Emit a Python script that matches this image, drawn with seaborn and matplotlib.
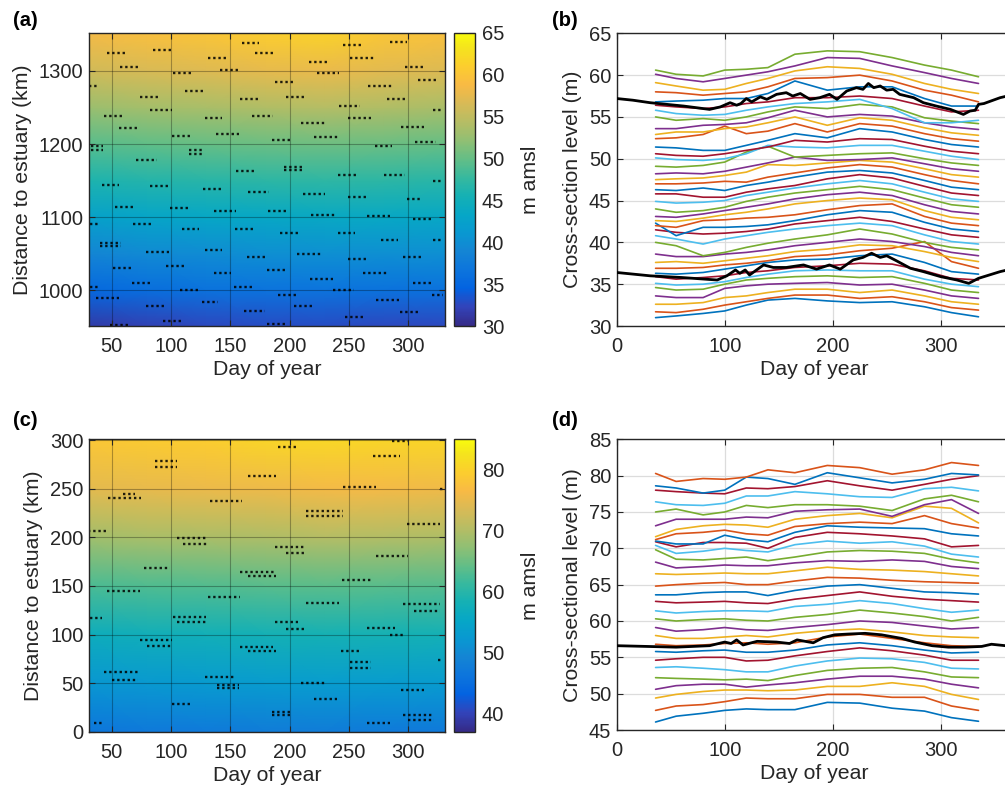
import numpy as np
import pandas as pd
import matplotlib
matplotlib.use("Agg")
import matplotlib.pyplot as plt
import seaborn as sns
from matplotlib.colors import LinearSegmentedColormap

sns.set_theme(style="white")
plt.rcParams["font.family"] = ["Liberation Sans", "DejaVu Sans"]

# ---------------- data: panel (a) heat map ----------------
A_DAYS = [31, 80, 130, 180, 230, 280, 331]
A_KM = [950, 1000, 1050, 1100, 1150, 1200, 1250, 1300, 1352]
A_LEVEL = [
    [31.5, 32.0, 32.5, 32.8, 32.8, 32.5, 32.5],
    [35.3, 35.8, 36.3, 36.5, 36.6, 36.3, 36.2],
    [39.0, 39.5, 39.8, 40.0, 40.2, 40.0, 40.0],
    [42.5, 43.0, 43.3, 43.5, 43.7, 43.6, 43.5],
    [46.0, 46.5, 46.8, 47.0, 47.2, 47.0, 46.8],
    [49.3, 49.8, 50.0, 50.3, 50.5, 50.3, 50.0],
    [52.8, 53.3, 53.6, 54.0, 54.3, 54.0, 53.6],
    [56.0, 56.6, 57.0, 57.5, 57.8, 57.3, 56.8],
    [58.5, 59.3, 60.0, 61.0, 61.5, 60.2, 59.5],
]
# sampled cross-sections (start day, end day, km)
A_SAMPLES = [
    (46, 63, 1325), (57, 74, 1306), (85, 102, 1329), (102, 117, 1297), (131, 147, 1318),
    (141, 158, 1301), (112, 129, 1273), (74, 89, 1264), (82, 101, 1246), (44, 60, 1238),
    (56, 72, 1222), (101, 117, 1211), (115, 127, 1192), (115, 127, 1186), (71, 88, 1178),
    (33, 43, 1198), (33, 43, 1192), (42, 56, 1144), (82, 99, 1142), (53, 70, 1114),
    (99, 115, 1112), (68, 85, 1091), (32, 40, 1090), (40, 58, 1064), (40, 58, 1060),
    (109, 124, 1084), (127, 143, 1138), (129, 143, 1235), (138, 157, 1214), (158, 175, 1261),
    (160, 174, 1338), (171, 188, 1324), (168, 186, 1239), (155, 171, 1163), (165, 183, 1134),
    (136, 155, 1109), (154, 171, 1084), (129, 143, 1055), (136, 151, 1023), (153, 169, 1005),
    (126, 140, 984), (162, 179, 972), (79, 95, 978), (93, 110, 958), (108, 124, 1000),
    (96, 113, 1033), (79, 98, 1052), (67, 84, 1010), (51, 68, 1030), (37, 56, 990),
    (32, 39, 1005), (49, 64, 953), (181, 196, 954), (204, 221, 978), (190, 207, 994),
    (181, 197, 1028), (206, 227, 1049), (217, 237, 1016), (192, 209, 1078), (182, 199, 1109),
    (241, 255, 1078), (218, 238, 1103), (211, 230, 1132), (195, 212, 1169), (195, 212, 1164),
    (185, 202, 1205), (197, 213, 1265), (188, 203, 1285), (216, 233, 1312), (223, 242, 1297),
    (210, 230, 1229), (221, 241, 1210), (242, 259, 1252), (245, 262, 1335), (251, 272, 1318),
    (249, 269, 1235), (241, 258, 1157), (249, 266, 1128), (265, 285, 1101), (280, 297, 1157),
    (266, 286, 1279), (282, 297, 1261), (285, 299, 1340), (297, 313, 1306), (308, 325, 1287),
    (294, 313, 1223), (306, 323, 1203), (272, 286, 1198), (299, 311, 1125), (304, 321, 1097),
    (321, 329, 1150), (321, 329, 1246), (277, 291, 1069), (321, 329, 1069), (296, 311, 1045),
    (304, 320, 1010), (320, 329, 994), (273, 292, 987), (293, 308, 970), (262, 282, 1023),
    (249, 265, 1043), (237, 254, 1000), (247, 262, 964), (164, 181, 1046), (31, 38, 1280),
]

# ---------------- data: panel (c) heat map ----------------
C_DAYS = [31, 80, 130, 180, 230, 280, 331]
C_KM = [0, 50, 100, 150, 200, 250, 301]
C_LEVEL = [
    [46.5, 47.0, 47.3, 47.5, 47.5, 47.3, 47.0],
    [52.0, 52.5, 52.8, 53.0, 53.2, 53.0, 52.8],
    [57.0, 57.5, 57.8, 58.0, 58.3, 58.2, 58.0],
    [62.5, 63.0, 63.2, 63.5, 63.8, 63.6, 63.3],
    [68.8, 69.3, 69.5, 69.8, 70.2, 70.0, 69.7],
    [74.5, 75.0, 75.3, 75.6, 76.0, 76.0, 75.8],
    [78.5, 79.0, 79.5, 80.5, 81.0, 80.5, 80.8],
]
C_SAMPLES = [
    (30, 47, 207), (32, 42, 117), (46, 74, 145), (47, 75, 241), (60, 70, 245), (77, 99, 169),
    (87, 105, 279), (87, 105, 272), (44, 72, 61), (50, 72, 53), (74, 101, 94), (80, 101, 88),
    (102, 130, 118), (105, 131, 113), (105, 131, 199), (110, 131, 193), (101, 117, 29), (35, 43, 9),
    (129, 155, 56), (139, 157, 45), (139, 157, 48), (131, 158, 139), (133, 160, 238), (158, 189, 164),
    (165, 189, 160), (158, 186, 87), (165, 189, 83), (165, 189, 263), (185, 200, 17), (185, 200, 20),
    (188, 207, 113), (197, 214, 106), (188, 214, 190), (197, 214, 184), (190, 207, 293), (210, 230, 50),
    (214, 245, 227), (214, 245, 222), (214, 242, 132), (221, 240, 34), (245, 273, 252), (244, 270, 156),
    (243, 259, 83), (251, 269, 72), (251, 269, 66), (265, 289, 107), (285, 297, 100), (273, 300, 181),
    (270, 293, 284), (286, 301, 299), (296, 327, 131), (305, 327, 124), (299, 327, 214), (294, 313, 43),
    (296, 322, 17), (300, 322, 12), (265, 285, 9), (325, 329, 74), (327, 329, 250),
]

# ---------------- data: panel (b) lines ----------------
B_DAYS = [36, 55, 80, 100, 120, 140, 165, 195, 225, 255, 285, 310, 335]
B_LINES = [
    [31.0, 31.2, 31.5, 31.8, 32.5, 33.1, 33.3, 33.0, 32.8, 32.9, 32.3, 31.6, 31.1],
    [31.7, 31.6, 32.0, 32.5, 32.9, 33.3, 33.7, 33.7, 33.3, 33.5, 32.9, 32.2, 31.9],
    [32.6, 32.6, 32.8, 33.4, 33.6, 34.0, 34.4, 34.4, 34.0, 34.3, 33.6, 32.9, 32.6],
    [33.6, 33.4, 33.4, 34.5, 34.8, 35.0, 35.1, 35.2, 34.9, 35.0, 34.3, 33.6, 33.3],
    [34.6, 34.3, 34.4, 35.0, 35.5, 35.7, 35.9, 36.0, 35.8, 35.9, 35.1, 34.3, 34.0],
    [35.1, 34.9, 35.0, 35.3, 35.8, 36.2, 36.6, 36.7, 36.6, 36.6, 35.6, 35.0, 34.7],
    [35.9, 35.6, 35.8, 36.0, 36.4, 36.6, 37.0, 37.2, 37.5, 37.4, 36.6, 35.7, 35.5],
    [36.3, 36.2, 36.4, 36.8, 37.2, 37.6, 37.9, 38.0, 38.4, 38.6, 37.6, 36.5, 36.2],
    [36.9, 36.9, 37.0, 37.3, 37.5, 37.8, 38.3, 38.5, 39.0, 39.3, 40.1, 37.7, 36.9],
    [37.6, 37.7, 37.5, 37.8, 38.1, 38.4, 38.9, 39.2, 39.7, 39.6, 38.9, 38.2, 37.7],
    [38.6, 38.3, 38.3, 38.6, 38.8, 39.1, 39.6, 40.0, 40.4, 40.1, 39.5, 38.8, 38.4],
    [40.0, 39.6, 38.4, 38.8, 39.4, 39.9, 40.4, 40.9, 41.6, 41.0, 40.0, 39.4, 39.1],
    [40.8, 40.4, 39.8, 40.4, 40.8, 41.2, 41.6, 42.0, 42.3, 42.0, 40.9, 40.1, 39.8],
    [41.5, 41.2, 41.0, 41.1, 41.3, 41.6, 42.2, 42.6, 43.0, 42.5, 41.6, 40.9, 40.6],
    [42.3, 40.8, 41.8, 41.8, 41.9, 42.1, 42.6, 43.3, 43.8, 43.6, 42.4, 41.6, 41.3],
    [42.0, 41.8, 42.6, 42.7, 42.9, 43.0, 43.3, 43.9, 44.4, 44.6, 43.1, 42.3, 42.0],
    [42.6, 42.5, 42.9, 43.3, 43.6, 44.0, 44.6, 45.0, 45.3, 45.1, 43.8, 43.0, 42.7],
    [43.1, 43.0, 43.4, 43.8, 44.2, 44.6, 45.2, 45.7, 46.0, 45.6, 44.5, 43.7, 43.4],
    [44.0, 43.6, 43.8, 44.2, 44.9, 45.4, 45.9, 46.3, 46.7, 46.3, 45.3, 44.5, 44.2],
    [44.9, 44.7, 44.8, 45.0, 45.6, 46.0, 46.5, 47.0, 47.4, 47.0, 46.0, 45.2, 44.9],
    [45.8, 45.8, 45.4, 45.4, 46.0, 46.4, 46.8, 47.6, 48.1, 47.7, 46.7, 45.9, 45.6],
    [46.3, 46.2, 46.5, 46.2, 46.8, 47.2, 47.8, 48.4, 48.6, 48.3, 47.4, 46.6, 46.3],
    [47.0, 47.0, 47.1, 47.3, 47.2, 47.8, 48.3, 48.9, 49.3, 49.0, 48.1, 47.4, 47.0],
    [47.5, 47.6, 47.7, 48.0, 48.4, 49.3, 49.2, 49.5, 49.8, 49.6, 48.8, 48.1, 47.8],
    [48.2, 48.3, 48.2, 48.5, 49.0, 49.5, 50.2, 49.8, 49.9, 50.1, 49.4, 48.8, 48.5],
    [49.1, 49.0, 49.2, 49.6, 50.8, 51.5, 50.2, 50.4, 50.6, 50.7, 50.0, 49.5, 49.2],
    [50.1, 49.9, 49.8, 50.0, 50.6, 51.6, 51.4, 51.3, 51.6, 51.6, 50.9, 50.3, 49.9],
    [50.6, 50.4, 50.3, 50.6, 51.0, 51.4, 52.2, 52.0, 52.4, 52.3, 51.5, 50.9, 50.6],
    [51.4, 51.3, 51.0, 51.0, 51.6, 52.2, 53.0, 52.5, 53.6, 53.2, 52.3, 51.7, 51.4],
    [52.4, 52.5, 52.9, 53.9, 53.0, 53.3, 54.2, 53.2, 54.2, 53.9, 53.0, 52.4, 52.1],
    [52.9, 53.2, 53.2, 53.6, 53.8, 54.3, 55.0, 54.0, 54.9, 54.6, 53.7, 53.1, 52.8],
    [53.6, 53.6, 54.0, 54.1, 54.3, 54.9, 55.8, 55.0, 55.3, 55.1, 54.3, 53.8, 53.5],
    [55.0, 54.6, 54.8, 54.6, 55.0, 55.6, 56.2, 56.0, 56.5, 56.2, 54.9, 54.5, 54.2],
    [55.8, 55.4, 55.2, 55.3, 55.8, 56.2, 56.6, 56.8, 57.1, 56.0, 54.3, 54.3, 54.6],
    [56.4, 56.2, 56.0, 56.2, 56.6, 56.8, 57.3, 57.3, 57.5, 57.2, 56.3, 55.6, 55.8],
    [56.8, 56.9, 57.0, 57.2, 57.2, 57.8, 59.3, 58.2, 58.6, 58.6, 57.2, 56.3, 56.3],
    [58.0, 57.9, 57.6, 57.8, 58.0, 58.6, 59.6, 59.7, 60.0, 59.3, 58.2, 57.6, 56.8],
    [59.1, 58.7, 58.2, 58.3, 59.0, 59.6, 60.5, 61.0, 60.8, 60.1, 59.0, 58.3, 57.8],
    [60.1, 59.6, 59.2, 59.6, 60.0, 60.4, 61.1, 62.1, 62.0, 61.1, 60.3, 59.6, 59.0],
    [60.6, 60.1, 59.9, 60.6, 60.7, 60.9, 62.5, 62.9, 62.8, 62.1, 61.2, 60.6, 59.8],
]
B_WL_DAYS = [0, 15, 31, 62, 86, 96, 105, 111, 115, 120, 125, 133, 139, 148, 157, 163, 170,
             179, 188, 197, 204, 213, 222, 228, 233, 238, 244, 250, 256, 262, 275, 284, 296,
             309, 321, 327, 332, 335, 340, 355, 365]
B_WL_UP = [57.2, 57.0, 56.7, 56.3, 55.9, 56.2, 56.7, 56.4, 56.6, 57.2, 56.8, 57.4, 57.1, 57.7,
           57.9, 57.5, 57.8, 57.1, 57.3, 57.7, 57.1, 58.1, 58.5, 58.3, 59.0, 58.5, 58.7, 58.2,
           58.3, 57.7, 57.3, 56.7, 56.3, 55.9, 55.3, 55.7, 55.8, 56.5, 56.6, 57.3, 57.6]
B_WL_LO_DAYS = [0, 31, 60, 93, 102, 110, 114, 119, 123, 136, 145, 157, 173, 185, 197, 207,
                219, 228, 236, 244, 250, 259, 272, 284, 300, 315, 326, 335, 355, 365]
B_WL_LO = [36.4, 36.0, 35.8, 35.5, 36.0, 36.7, 36.3, 36.7, 36.1, 37.3, 37.0, 37.0, 37.3, 36.8,
           37.3, 36.8, 37.9, 38.2, 38.7, 38.2, 38.4, 37.8, 36.9, 36.5, 35.9, 35.5, 35.1, 35.7,
           36.5, 36.8]

# ---------------- data: panel (d) lines ----------------
D_DAYS = [36, 55, 80, 100, 120, 140, 165, 195, 225, 255, 285, 310, 335]
D_LINES = [
    [46.1, 46.9, 47.3, 47.7, 47.9, 47.8, 47.8, 48.8, 48.7, 48.0, 47.6, 46.7, 46.2],
    [47.7, 48.3, 48.5, 48.9, 49.4, 49.3, 49.3, 49.9, 49.9, 49.5, 49.5, 48.3, 47.7],
    [49.4, 49.9, 50.3, 50.5, 50.5, 50.4, 50.5, 51.0, 51.0, 51.5, 51.0, 49.9, 49.2],
    [50.6, 51.1, 51.3, 51.3, 50.9, 51.2, 51.5, 52.0, 52.4, 52.4, 52.0, 51.3, 50.8],
    [52.2, 52.1, 52.0, 51.9, 52.0, 51.8, 52.5, 53.2, 53.5, 53.6, 53.0, 52.3, 52.2],
    [53.6, 53.7, 53.5, 53.3, 53.0, 53.0, 53.8, 54.5, 54.9, 54.8, 54.3, 53.5, 53.4],
    [54.6, 54.8, 55.0, 55.0, 54.5, 54.6, 55.2, 55.8, 56.3, 55.9, 55.3, 54.6, 54.6],
    [55.8, 55.7, 55.9, 56.0, 55.7, 55.7, 56.0, 56.7, 57.0, 56.6, 56.0, 55.6, 55.7],
    [56.8, 56.6, 56.7, 56.9, 57.0, 56.8, 57.0, 57.8, 58.2, 57.6, 57.0, 56.6, 56.5],
    [58.0, 57.6, 57.6, 57.8, 58.0, 57.8, 58.3, 58.7, 58.9, 58.5, 58.0, 57.8, 57.7],
    [59.1, 58.6, 58.8, 59.1, 58.8, 58.7, 59.1, 59.5, 60.0, 59.8, 59.3, 58.9, 59.1],
    [60.3, 60.0, 60.2, 60.3, 60.1, 60.0, 60.5, 60.9, 61.5, 61.1, 60.6, 60.0, 60.5],
    [61.4, 61.1, 61.3, 61.4, 61.4, 61.3, 62.0, 62.3, 62.8, 62.4, 61.7, 61.2, 61.5],
    [62.7, 62.5, 62.6, 62.7, 62.5, 62.4, 63.0, 63.5, 64.0, 63.4, 63.0, 62.8, 62.6],
    [63.6, 63.6, 63.9, 64.0, 64.0, 63.5, 64.2, 64.8, 65.0, 64.5, 64.0, 63.9, 63.7],
    [64.8, 65.0, 65.2, 65.3, 65.0, 65.0, 65.5, 66.0, 65.9, 65.6, 65.4, 65.3, 65.2],
    [66.5, 66.4, 66.5, 66.6, 66.5, 66.5, 66.9, 67.4, 67.1, 67.0, 66.8, 66.5, 66.2],
    [68.1, 67.3, 67.5, 67.7, 67.6, 67.6, 68.0, 68.3, 68.2, 68.4, 68.2, 67.5, 67.2],
    [69.8, 68.5, 68.4, 68.6, 68.8, 68.3, 68.8, 69.5, 69.7, 69.6, 69.3, 68.5, 68.0],
    [70.4, 69.3, 69.6, 70.0, 69.7, 69.5, 70.5, 71.0, 70.7, 70.9, 70.3, 69.2, 68.8],
    [70.9, 70.2, 70.8, 70.8, 70.7, 70.0, 71.5, 72.2, 72.0, 71.7, 71.3, 70.2, 70.4],
    [71.0, 70.6, 70.6, 71.8, 71.2, 70.9, 72.2, 73.1, 72.9, 72.8, 72.7, 72.0, 71.7],
    [71.2, 72.0, 72.2, 72.5, 72.0, 71.8, 73.0, 73.4, 73.6, 73.4, 74.5, 73.4, 72.8],
    [71.6, 72.6, 73.1, 73.3, 73.2, 72.9, 74.0, 74.5, 74.8, 74.2, 75.8, 75.5, 73.5],
    [73.1, 74.0, 74.0, 74.0, 74.3, 74.2, 75.1, 75.3, 75.4, 74.4, 76.0, 76.7, 74.8],
    [75.0, 75.4, 74.6, 75.0, 75.9, 75.6, 76.0, 76.0, 75.8, 75.2, 76.8, 77.3, 76.4],
    [76.4, 76.0, 75.9, 76.2, 77.2, 77.2, 77.8, 77.5, 77.1, 77.0, 78.2, 78.4, 77.9],
    [78.0, 77.8, 77.6, 77.5, 78.3, 78.2, 78.5, 79.3, 78.6, 78.0, 78.8, 79.5, 80.0],
    [78.6, 78.3, 77.6, 78.0, 79.8, 79.6, 78.8, 80.4, 79.7, 79.0, 79.5, 80.3, 80.1],
    [80.3, 79.2, 79.6, 79.5, 79.8, 80.8, 80.4, 81.4, 81.1, 80.2, 80.8, 81.8, 81.4],
]
D_WL_DAYS = [0, 55, 86, 100, 106, 111, 117, 130, 148, 160, 167, 182, 191, 202, 214, 230,
             245, 264, 276, 292, 307, 322, 338, 347, 360, 365]
D_WL = [56.6, 56.4, 56.6, 57.1, 56.9, 57.4, 56.7, 57.2, 57.1, 56.9, 57.4, 57.0, 57.7, 58.1,
        58.2, 58.3, 58.1, 57.6, 57.1, 56.6, 56.4, 56.4, 56.5, 56.8, 56.6, 56.6]

# ---------------- styling ----------------
MATLAB_COLORS = ["#0072BD", "#D95319", "#EDB120", "#7E2F8E", "#77AC30", "#4DBEEE", "#A2142F"]
_parula = [
    (0, (0.2081, 0.1663, 0.5292)), (4, (0.1959, 0.2645, 0.7279)), (8, (0.0117, 0.3875, 0.8820)),
    (12, (0.0498, 0.4586, 0.8641)), (16, (0.0793, 0.5200, 0.8312)), (20, (0.0343, 0.5966, 0.8199)),
    (24, (0.0228, 0.6535, 0.7768)), (28, (0.0843, 0.6928, 0.7062)), (32, (0.2178, 0.7250, 0.6193)),
    (36, (0.3953, 0.7459, 0.5244)), (40, (0.5709, 0.7485, 0.4494)), (44, (0.7184, 0.7411, 0.3905)),
    (48, (0.8507, 0.7299, 0.3360)), (52, (0.9739, 0.7314, 0.2666)), (56, (0.9880, 0.8066, 0.1794)),
    (60, (0.9589, 0.8949, 0.1132)), (63, (0.9763, 0.9831, 0.0538)),
]
PARULA = LinearSegmentedColormap.from_list("parula", [(i / 63, c) for i, c in _parula])
AX_COL = "#262626"
TICK_FS = 14.5
LABEL_FS = 15.3

W, H = 1005, 798
fig = plt.figure(figsize=(W / 100, H / 100), dpi=100)


def rect(l, t, r, b):
    return [l / W, 1 - b / H, (r - l) / W, (b - t) / H]


ax_a = fig.add_axes(rect(89, 33, 445, 326))
cax_a = fig.add_axes(rect(454, 33, 475, 326))
ax_b = fig.add_axes(rect(616.7, 33.3, 616.7 + 365 * 1.08, 326))
ax_c = fig.add_axes(rect(89, 439.3, 445, 731.7))
cax_c = fig.add_axes(rect(454, 439.3, 475, 731.7))
ax_d = fig.add_axes(rect(616.7, 439.3, 616.7 + 365 * 1.08, 730))


def style(ax, heat):
    for s in ax.spines.values():
        s.set_color(AX_COL)
        s.set_linewidth(1.0)
    ax.tick_params(direction="in", length=4, width=0.8, colors=AX_COL, labelsize=TICK_FS,
                   top=True, right=True, bottom=True, left=True)
    ax.tick_params(axis="x", pad=8)
    ax.tick_params(axis="y", pad=4)
    if heat:
        ax.set_axisbelow(False)
        ax.grid(True, color="black", alpha=0.3, lw=0.8)
    else:
        ax.set_axisbelow(True)
        ax.grid(True, color="#dcdcdc", lw=0.9)


def heat_panel(ax, cax, days, km, level, samples, vmin, vmax, cticks, yticks, ylim):
    mesh = ax.pcolormesh(days, km, np.array(level), shading="gouraud", cmap=PARULA,
                         vmin=vmin, vmax=vmax, rasterized=True)
    for d0, d1, k in samples:
        ax.plot([d0, d1], [k, k], color="black", lw=1.7, ls=(0, (1, 1.2)),
                dash_capstyle="butt", alpha=0.85)
    ax.set_xlim(31, 331)
    ax.set_ylim(*ylim)
    ax.set_xticks([50, 100, 150, 200, 250, 300])
    ax.set_yticks(yticks)
    style(ax, True)
    ax.set_xlabel("Day of year", fontsize=LABEL_FS, color=AX_COL, labelpad=3)
    ax.set_ylabel("Distance to estuary (km)", fontsize=LABEL_FS, color=AX_COL, labelpad=5)
    cb = fig.colorbar(mesh, cax=cax)
    cb.set_ticks(cticks)
    cb.outline.set_edgecolor(AX_COL)
    cb.outline.set_linewidth(1.0)
    cax.tick_params(direction="in", length=4, width=0.8, colors=AX_COL, labelsize=TICK_FS,
                    right=True, left=False, pad=5)
    cb.set_label("m amsl", fontsize=LABEL_FS, color=AX_COL, labelpad=12)


def line_panel(ax, days, lines, black, ylim, yticks, ylabel):
    rows = []
    for i, vals in enumerate(lines):
        for d, v in zip(days, vals):
            rows.append({"day": d, "level": v, "line": i})
    df = pd.DataFrame(rows)
    pal = {i: MATLAB_COLORS[i % 7] for i in range(len(lines))}
    sns.lineplot(data=df, x="day", y="level", hue="line", palette=pal, legend=False,
                 estimator=None, sort=False, lw=1.2, ax=ax)
    for bd, bv in black:
        sns.lineplot(x=bd, y=bv, color="black", lw=2.0, estimator=None, sort=False, ax=ax,
                     zorder=5)
    ax.set_xlim(0, 365)
    ax.set_ylim(*ylim)
    ax.set_xticks([0, 100, 200, 300])
    ax.set_yticks(yticks)
    style(ax, False)
    ax.set_xlabel("Day of year", fontsize=LABEL_FS, color=AX_COL, labelpad=3)
    ax.set_ylabel(ylabel, fontsize=LABEL_FS, color=AX_COL, labelpad=5)


heat_panel(ax_a, cax_a, A_DAYS, A_KM, A_LEVEL, A_SAMPLES, 30, 65,
           [30, 35, 40, 45, 50, 55, 60, 65], [1000, 1100, 1200, 1300], (951, 1352))
heat_panel(ax_c, cax_c, C_DAYS, C_KM, C_LEVEL, C_SAMPLES, 37, 85,
           [40, 50, 60, 70, 80], [0, 50, 100, 150, 200, 250, 300], (0, 301))
line_panel(ax_b, B_DAYS, B_LINES, [(B_WL_DAYS, B_WL_UP), (B_WL_LO_DAYS, B_WL_LO)],
           (30, 65), [30, 35, 40, 45, 50, 55, 60, 65], "Cross-section level (m)")
line_panel(ax_d, D_DAYS, D_LINES, [(D_WL_DAYS, D_WL)],
           (45, 85), [45, 50, 55, 60, 65, 70, 75, 80, 85], "Cross-sectional level (m)")

for x, y, t in [(13, 20, "(a)"), (552, 20, "(b)"), (13, 420, "(c)"), (552, 420, "(d)")]:
    fig.text(x / W, 1 - y / H, t, fontsize=14.5, fontweight="bold", va="center", ha="left",
             color="black")

fig.savefig("out.png", dpi=100)
